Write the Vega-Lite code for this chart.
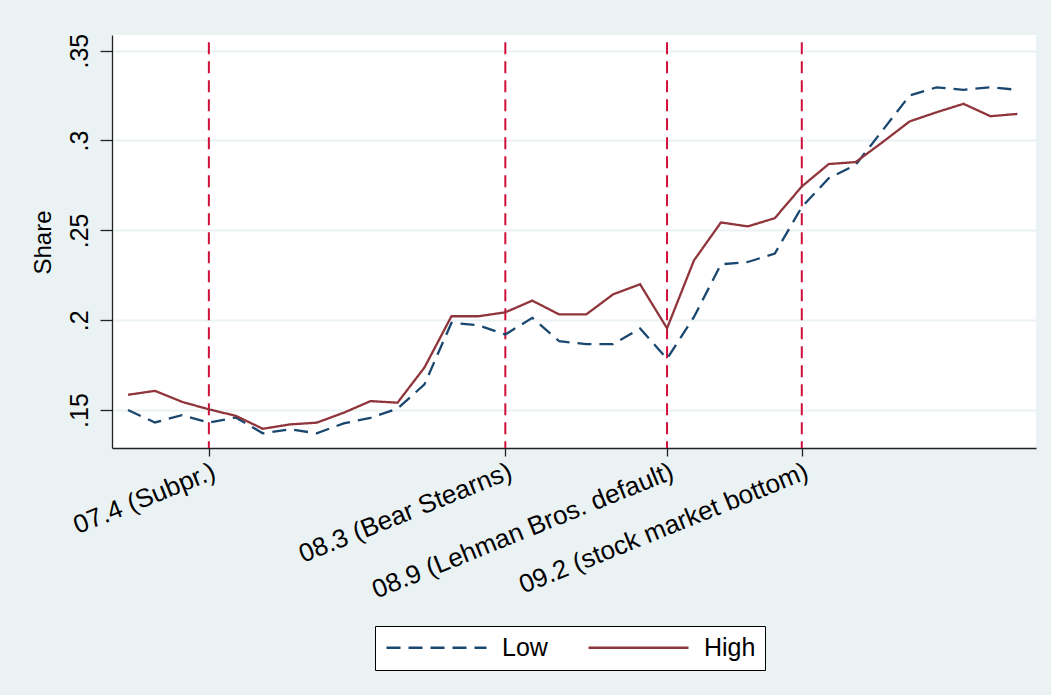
{
  "$schema": "https://vega.github.io/schema/vega-lite/v6.json",
  "width": 924,
  "height": 413,
  "autosize": {"type": "none"},
  "padding": {"left": 112, "top": 35, "right": 15, "bottom": 247},
  "background": "#EAF2F3",
  "config": {
    "view": {"fill": "white", "stroke": null},
    "font": "Liberation Sans",
    "axisX": {
      "grid": false,
      "labelAngle": -22,
      "labelAlign": "right",
      "labelBaseline": "top",
      "labelPadding": 2,
      "labelFontSize": 26,
      "labelLimit": 0,
      "labelColor": "black",
      "labelOverlap": false,
      "labelBound": false,
      "labelFlush": false,
      "tickSize": 8,
      "tickColor": "#222222",
      "tickWidth": 1.3,
      "domainColor": "#222222",
      "domainWidth": 1.3
    },
    "axisY": {
      "titleFontSize": 24,
      "titleFontWeight": "normal",
      "titleColor": "black",
      "titleAngle": -90,
      "titleAlign": "center",
      "titleBaseline": "alphabetic",
      "labelAngle": -90,
      "labelAlign": "center",
      "labelBaseline": "alphabetic",
      "labelPadding": 13,
      "labelFontSize": 25,
      "labelColor": "black",
      "labelOverlap": false,
      "labelFlush": false,
      "tickSize": 12,
      "tickColor": "#222222",
      "tickWidth": 1.3,
      "domainColor": "#222222",
      "domainWidth": 1.3,
      "grid": true,
      "gridColor": "#EAF2F3",
      "gridWidth": 2
    },
    "legend": {
      "orient": "none",
      "direction": "horizontal",
      "columns": 2,
      "symbolType": "M-5,0H5",
      "symbolSize": 400,
      "symbolOffset": 40,
      "symbolStrokeWidth": 2.5,
      "labelFontSize": 25,
      "labelColor": "black",
      "labelOffset": 53,
      "columnPadding": 35,
      "padding": 9,
      "strokeColor": "black",
      "fillColor": "white"
    }
  },
  "datasets": {
    "events": [
      {"t": 3, "event": "07.4 (Subpr.)"},
      {"t": 14, "event": "08.3 (Bear Stearns)"},
      {"t": 20, "event": "08.9 (Lehman Bros. default)"},
      {"t": 25, "event": "09.2 (stock market bottom)"}
    ],
    "series": [
      {"t": 0, "group": "Low", "share": 0.1500}, {"t": 0, "group": "High", "share": 0.1585},
      {"t": 1, "group": "Low", "share": 0.1431}, {"t": 1, "group": "High", "share": 0.1607},
      {"t": 2, "group": "Low", "share": 0.1472}, {"t": 2, "group": "High", "share": 0.1546},
      {"t": 3, "group": "Low", "share": 0.1430}, {"t": 3, "group": "High", "share": 0.1504},
      {"t": 4, "group": "Low", "share": 0.1459}, {"t": 4, "group": "High", "share": 0.1468},
      {"t": 5, "group": "Low", "share": 0.1371}, {"t": 5, "group": "High", "share": 0.1396},
      {"t": 6, "group": "Low", "share": 0.1393}, {"t": 6, "group": "High", "share": 0.1420},
      {"t": 7, "group": "Low", "share": 0.1371}, {"t": 7, "group": "High", "share": 0.1430},
      {"t": 8, "group": "Low", "share": 0.1426}, {"t": 8, "group": "High", "share": 0.1485},
      {"t": 9, "group": "Low", "share": 0.1457}, {"t": 9, "group": "High", "share": 0.1550},
      {"t": 10, "group": "Low", "share": 0.1508}, {"t": 10, "group": "High", "share": 0.1541},
      {"t": 11, "group": "Low", "share": 0.1643}, {"t": 11, "group": "High", "share": 0.1737},
      {"t": 12, "group": "Low", "share": 0.1985}, {"t": 12, "group": "High", "share": 0.2022},
      {"t": 13, "group": "Low", "share": 0.1972}, {"t": 13, "group": "High", "share": 0.2022},
      {"t": 14, "group": "Low", "share": 0.1921}, {"t": 14, "group": "High", "share": 0.2044},
      {"t": 15, "group": "Low", "share": 0.2013}, {"t": 15, "group": "High", "share": 0.2109},
      {"t": 16, "group": "Low", "share": 0.1883}, {"t": 16, "group": "High", "share": 0.2032},
      {"t": 17, "group": "Low", "share": 0.1867}, {"t": 17, "group": "High", "share": 0.2032},
      {"t": 18, "group": "Low", "share": 0.1867}, {"t": 18, "group": "High", "share": 0.2144},
      {"t": 19, "group": "Low", "share": 0.1954}, {"t": 19, "group": "High", "share": 0.2200},
      {"t": 20, "group": "Low", "share": 0.1785}, {"t": 20, "group": "High", "share": 0.1955},
      {"t": 21, "group": "Low", "share": 0.2018}, {"t": 21, "group": "High", "share": 0.2333},
      {"t": 22, "group": "Low", "share": 0.2311}, {"t": 22, "group": "High", "share": 0.2544},
      {"t": 23, "group": "Low", "share": 0.2324}, {"t": 23, "group": "High", "share": 0.2522},
      {"t": 24, "group": "Low", "share": 0.2371}, {"t": 24, "group": "High", "share": 0.2568},
      {"t": 25, "group": "Low", "share": 0.2630}, {"t": 25, "group": "High", "share": 0.2744},
      {"t": 26, "group": "Low", "share": 0.2790}, {"t": 26, "group": "High", "share": 0.2869},
      {"t": 27, "group": "Low", "share": 0.2865}, {"t": 27, "group": "High", "share": 0.2880},
      {"t": 28, "group": "Low", "share": 0.3057}, {"t": 28, "group": "High", "share": 0.2991},
      {"t": 29, "group": "Low", "share": 0.3250}, {"t": 29, "group": "High", "share": 0.3106},
      {"t": 30, "group": "Low", "share": 0.3296}, {"t": 30, "group": "High", "share": 0.3157},
      {"t": 31, "group": "Low", "share": 0.3282}, {"t": 31, "group": "High", "share": 0.3204},
      {"t": 32, "group": "Low", "share": 0.3296}, {"t": 32, "group": "High", "share": 0.3135},
      {"t": 33, "group": "Low", "share": 0.3282}, {"t": 33, "group": "High", "share": 0.3148}
    ]
  },
  "layer": [
    {
      "data": {"name": "events"},
      "mark": {"type": "rule", "color": "#D0103A", "strokeWidth": 2, "strokeDash": [12, 7]},
      "encoding": {
        "x": {
          "field": "t",
          "type": "quantitative",
          "scale": {"domain": [-0.594, 33.69], "nice": false, "zero": false},
          "axis": {
            "values": [3, 14, 20, 25],
            "labelExpr": "datum.value == 3 ? '07.4 (Subpr.)' : datum.value == 14 ? '08.3 (Bear Stearns)' : datum.value == 20 ? '08.9 (Lehman Bros. default)' : '09.2 (stock market bottom)'",
            "title": null
          }
        },
        "y": {
          "datum": 0.3547,
          "type": "quantitative",
          "scale": {"domain": [0.1289, 0.3587], "nice": false, "zero": false},
          "axis": {
            "values": [0.15, 0.2, 0.25, 0.3, 0.35],
            "labelExpr": "slice(format(datum.value, '.2~f'), 1)",
            "title": "Share",
            "titleX": -62,
            "titleY": 207
          }
        },
        "y2": {"datum": 0.1289}
      }
    },
    {
      "data": {"name": "series"},
      "mark": {"type": "line", "strokeWidth": 2.3},
      "encoding": {
        "x": {
          "field": "t",
          "type": "quantitative",
          "scale": {"domain": [-0.594, 33.69], "nice": false, "zero": false},
          "axis": {
            "values": [3, 14, 20, 25],
            "labelExpr": "datum.value == 3 ? '07.4 (Subpr.)' : datum.value == 14 ? '08.3 (Bear Stearns)' : datum.value == 20 ? '08.9 (Lehman Bros. default)' : '09.2 (stock market bottom)'",
            "title": null
          }
        },
        "y": {
          "field": "share",
          "type": "quantitative",
          "scale": {"domain": [0.1289, 0.3587], "nice": false, "zero": false},
          "axis": {
            "values": [0.15, 0.2, 0.25, 0.3, 0.35],
            "labelExpr": "slice(format(datum.value, '.2~f'), 1)",
            "title": "Share",
            "titleX": -62,
            "titleY": 207
          }
        },
        "color": {
          "field": "group",
          "type": "nominal",
          "scale": {"domain": ["Low", "High"], "range": ["#1A476F", "#90353B"]},
          "legend": {"title": null, "legendX": 263, "legendY": 591}
        },
        "strokeDash": {
          "field": "group",
          "type": "nominal",
          "scale": {"domain": ["Low", "High"], "range": [[14, 8], [1, 0]]},
          "legend": {"title": null, "legendX": 263, "legendY": 591}
        }
      }
    }
  ]
}
